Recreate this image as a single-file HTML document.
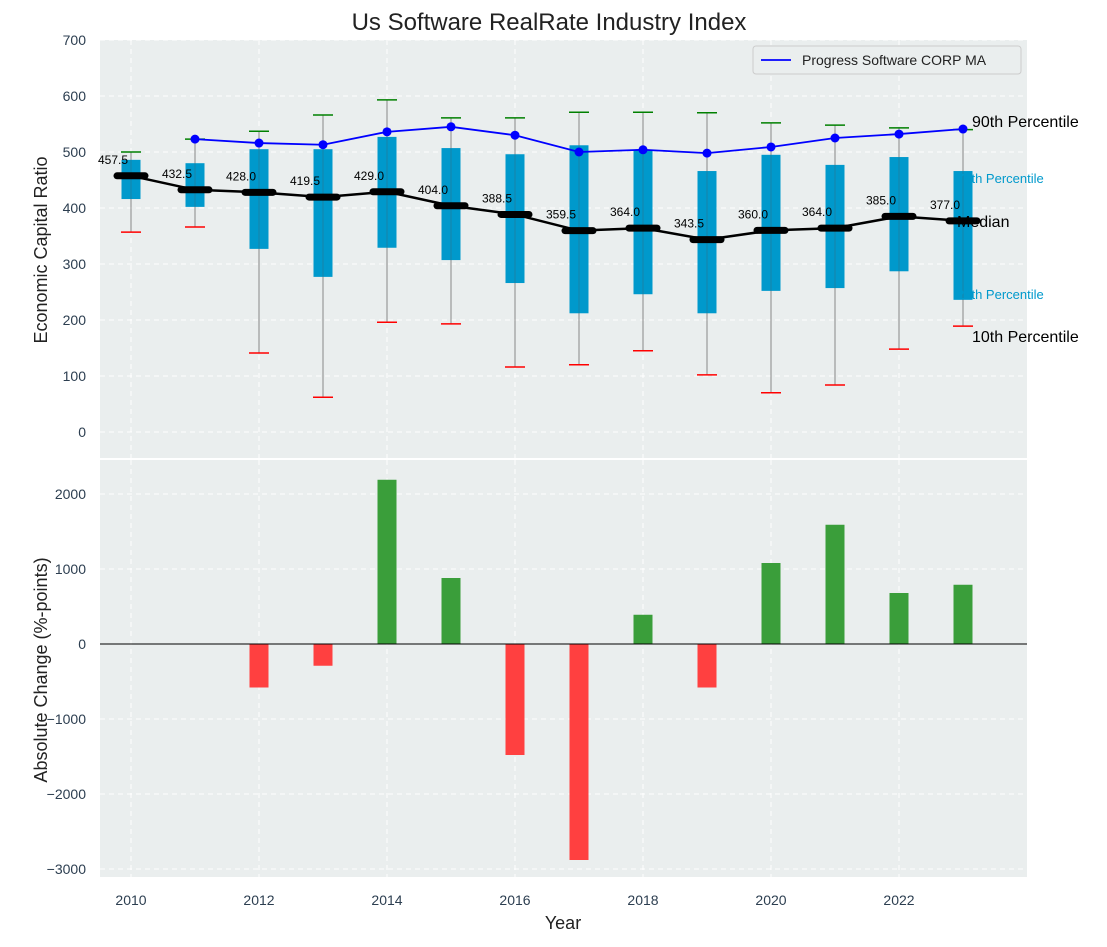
<!DOCTYPE html>
<html><head><meta charset="utf-8"><style>
body{margin:0;background:#fff}
svg{font-family:"Liberation Sans","DejaVu Sans",sans-serif}
</style></head><body>
<svg id="c" width="1107" height="942"></svg>
<script>
const years=[2010,2011,2012,2013,2014,2015,2016,2017,2018,2019,2020,2021,2022,2023];
const medians=[457.5,432.5,428.0,419.5,429.0,404.0,388.5,359.5,364.0,343.5,360.0,364.0,385.0,377.0];
const q3=[486,480,505,505,527,507,496,512,504,466,495,477,491,466];
const q1=[416,402,327,277,329,307,266,212,246,212,252,257,287,236];
const p90=[500,523,537,566,593,561,561,571,571,570,552,548,543,540];
const p10=[357,366,141,62,196,193,116,120,145,102,70,84,148,189];
const maYears=[2011,2012,2013,2014,2015,2016,2017,2018,2019,2020,2021,2022,2023];
const maVals=[523,516,513,536,545,530,500,504,498,509,525,532,541];
const changes=[0,0,-580,-290,2190,880,-1480,-2880,390,-580,1080,1590,680,790];
const topTicks=[0,100,200,300,400,500,600,700];
const botTicks=[-3000,-2000,-1000,0,1000,2000];
const xTicks=[2010,2012,2014,2016,2018,2020,2022];

const NS="http://www.w3.org/2000/svg";
const svg=document.getElementById('c');
function el(t,a,p){const e=document.createElementNS(NS,t);for(const k in a)e.setAttribute(k,a[k]);(p||svg).appendChild(e);return e;}
const X=y=>131+(y-2010)*64;
const Yt=v=>432-v*0.56;
const Yb=v=>644-v*0.075;
const L=100,R=1027;

let e=el('rect',{x:L,y:40,width:R-L,height:418,fill:'#eaeeee'});

e=el('rect',{x:L,y:460,width:R-L,height:417,fill:'#eaeeee'});


topTicks.forEach(v=>{el('line',{x1:L,x2:R,y1:Yt(v),y2:Yt(v),stroke:'#fff','stroke-dasharray':'5,4','stroke-width':1});
 e=el('text',{x:86,y:Yt(v)+5,'text-anchor':'end','font-size':14,fill:'#2c3e50'});e.textContent=v;
 });
botTicks.forEach(v=>{el('line',{x1:L,x2:R,y1:Yb(v),y2:Yb(v),stroke:'#fff','stroke-dasharray':'5,4','stroke-width':1});
 e=el('text',{x:86,y:Yb(v)+5,'text-anchor':'end','font-size':14,fill:'#2c3e50'});e.textContent=v<0?'\u2212'+(-v):v;
 });
xTicks.forEach(y=>{el('line',{x1:X(y),x2:X(y),y1:40,y2:458,stroke:'#fff','stroke-dasharray':'5,4'});
 el('line',{x1:X(y),x2:X(y),y1:460,y2:877,stroke:'#fff','stroke-dasharray':'5,4'});
 e=el('text',{x:X(y),y:905,'text-anchor':'middle','font-size':14,fill:'#2c3e50'});e.textContent=y;
 });

years.forEach((y,i)=>{const x=X(y);
 el('line',{x1:x,x2:x,y1:Yt(p90[i]),y2:Yt(p10[i]),stroke:'#888','stroke-width':1});
 el('line',{x1:x-10,x2:x+10,y1:Yt(p90[i]),y2:Yt(p90[i]),stroke:'green','stroke-width':1.5});
 el('line',{x1:x-10,x2:x+10,y1:Yt(p10[i]),y2:Yt(p10[i]),stroke:'red','stroke-width':1.5});
 e=el('rect',{x:x-9.5,y:Yt(q3[i]),width:19,height:Yt(q1[i])-Yt(q3[i]),fill:'#0099cc'});
 
 el('line',{x1:x,x2:x,y1:Yt(q3[i]),y2:Yt(q1[i]),stroke:'#555','stroke-width':0.6,opacity:0.5});
});

// percentile labels over boxes, same colour so start is hidden
e=el('text',{x:957,y:183,'font-size':13,fill:'#0099cc'});e.textContent='75th Percentile';

e=el('text',{x:957,y:299,'font-size':13,fill:'#0099cc'});e.textContent='25th Percentile';


e=el('polyline',{points:maYears.map((y,i)=>X(y)+','+Yt(maVals[i])).join(' '),fill:'none',stroke:'blue','stroke-width':1.8});

maYears.forEach((y,i)=>{e=el('circle',{cx:X(y),cy:Yt(maVals[i]),r:4.5,fill:'blue'});
 });
e=el('polyline',{points:years.map((y,i)=>X(y)+','+Yt(medians[i])).join(' '),fill:'none',stroke:'black','stroke-width':2.5});

years.forEach((y,i)=>{const x=X(y),yy=Yt(medians[i]);
 e=el('line',{x1:x-14,x2:x+14,y1:yy,y2:yy,stroke:'black','stroke-width':7,'stroke-linecap':'round'});
 
 e=el('text',{x:x-18,y:yy-12,'text-anchor':'middle','font-size':12,fill:'#000'});e.textContent=medians[i].toFixed(1);
 });
[['90th Percentile',972,127,'p90-annotation'],['Median',957,227,'median-annotation'],['10th Percentile',972,342,'p10-annotation']].forEach(a=>{
 e=el('text',{x:a[1],y:a[2],'font-size':16,fill:'#000'});e.textContent=a[0];
 });

years.forEach((y,i)=>{const v=changes[i];if(!v)return;
 const y0=Yb(Math.max(v,0)),h=Math.abs(Yb(v)-Yb(0));
 e=el('rect',{x:X(y)-9.5,y:y0,width:19,height:h,fill:v>0?'#3a9e3a':'#ff4040'});
 });
el('line',{x1:L,x2:R,y1:Yb(0),y2:Yb(0),stroke:'#000','stroke-width':1});

const lg=el('g',{});

el('rect',{x:753,y:46,width:268,height:28,rx:3,fill:'#eaeeee',stroke:'#ccc'},lg);
el('line',{x1:761,x2:791,y1:60,y2:60,stroke:'blue','stroke-width':1.8},lg);
e=el('text',{x:802,y:65,'font-size':14,fill:'#222'},lg);e.textContent='Progress Software CORP MA';

e=el('text',{x:549,y:30,'text-anchor':'middle','font-size':24,fill:'#222'});e.textContent='Us Software RealRate Industry Index';

e=el('text',{x:0,y:0,'text-anchor':'middle','font-size':18,fill:'#222',transform:'translate(47,250) rotate(-90)'});e.textContent='Economic Capital Ratio';

e=el('text',{x:0,y:0,'text-anchor':'middle','font-size':18,fill:'#222',transform:'translate(47,670) rotate(-90)'});e.textContent='Absolute Change (%-points)';

e=el('text',{x:563,y:929,'text-anchor':'middle','font-size':18,fill:'#222'});e.textContent='Year';

</script>
</body></html>
